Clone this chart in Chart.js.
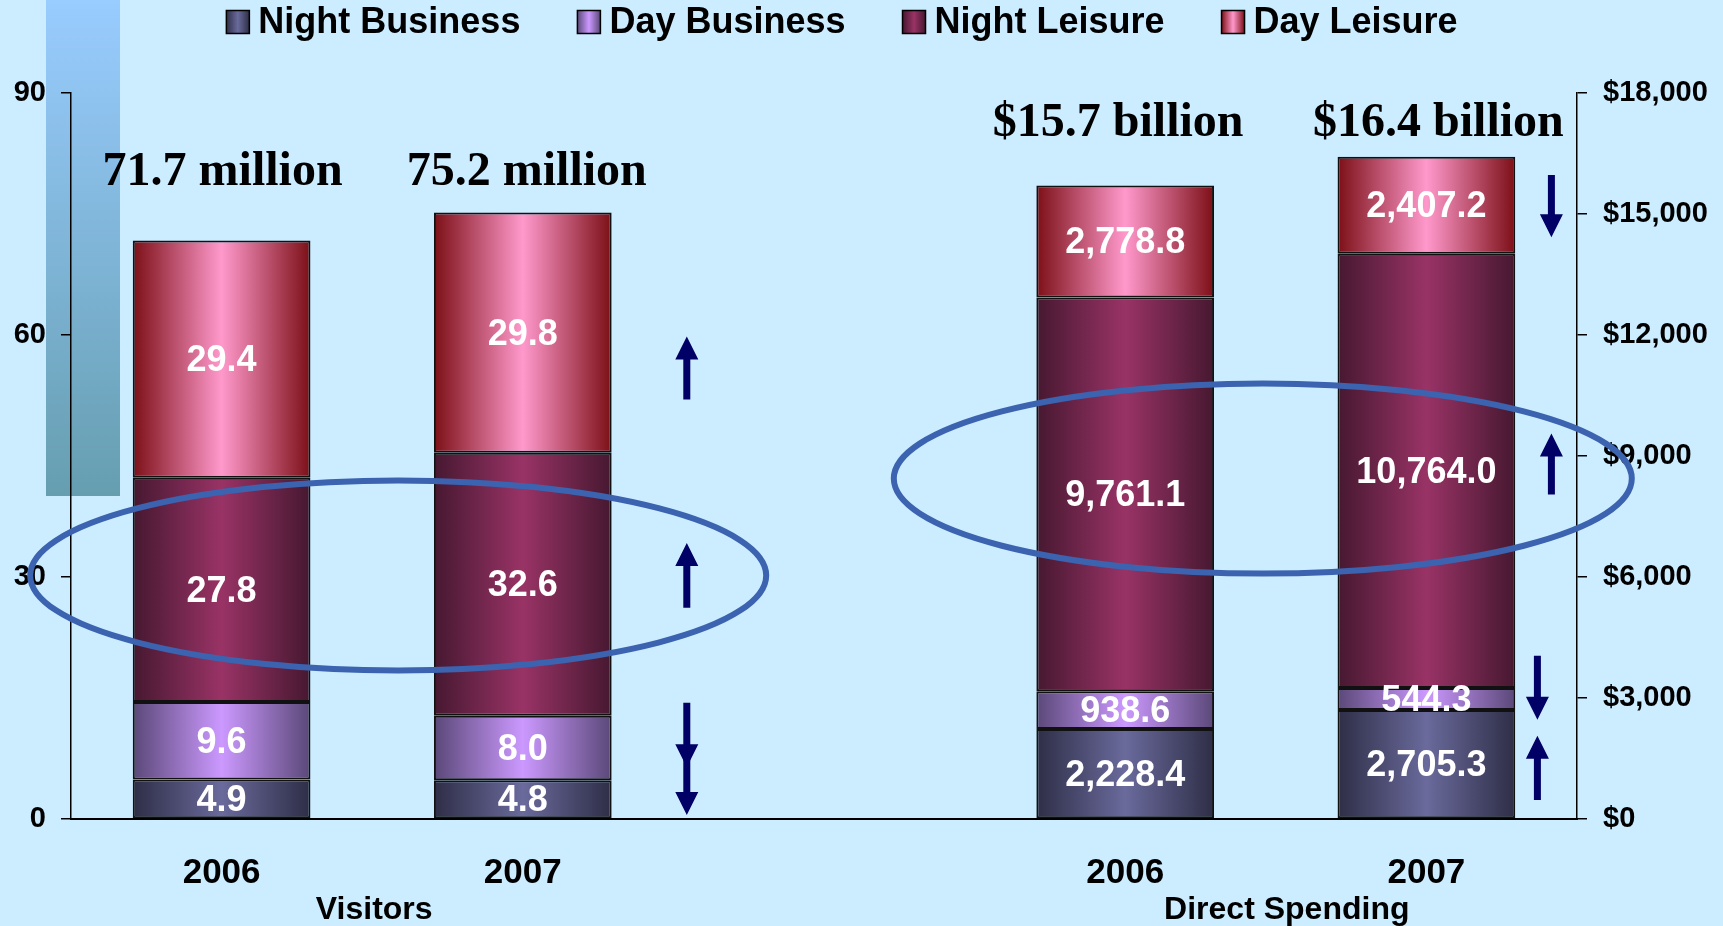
<!DOCTYPE html>
<html>
<head>
<meta charset="utf-8">
<title>Visitors and Direct Spending</title>
<script src="https://cdn.jsdelivr.net/npm/chart.js@4.4.1/dist/chart.umd.min.js"></script>
<style>
  html, body { margin: 0; padding: 0; background: #ccecff; }
  #wrap { position: relative; width: 1723px; height: 926px; }
</style>
</head>
<body>
<div id="wrap"><canvas id="chart" width="1723" height="926"></canvas></div>
<script>
// categories: two visitor bars, a spacer, two spending bars
const categories = ['2006', '2007', '', '2006', '2007'];
const groupLabels = ['Visitors', 'Direct Spending'];
const seriesNames = ['Night Business', 'Day Business', 'Night Leisure', 'Day Leisure'];

// visitors, millions (2006, 2007)
const visNightBusiness = [4.9, 4.8];
const visDayBusiness = [9.6, 8.0];
const visNightLeisure = [27.8, 32.6];
const visDayLeisure = [29.4, 29.8];

// direct spending, $ millions (2006, 2007)
const spendNightBusiness = [2228.4, 2705.3];
const spendDayBusiness = [938.6, 544.3];
const spendNightLeisure = [9761.1, 10764.0];
const spendDayLeisure = [2778.8, 2407.2];

const totalLabels = ['71.7 million', '75.2 million', '$15.7 billion', '$16.4 billion'];
const visitorTicks = [0, 30, 60, 90];
const spendingTicks = [0, 3000, 6000, 9000, 12000, 15000, 18000];

// colours: [edge, middle] of the cylinder shading
const seriesColors = [
  ['#2e2e47', '#6a6a9c'],
  ['#5a4878', '#cc99ff'],
  ['#461830', '#993366'],
  ['#7c0f16', '#ff99cc']
];

const BAR_PCT = 0.59;

function barFill(edge, mid) {
  return function (ctx) {
    const xs = ctx.chart.scales.x;
    if (!xs || ctx.dataIndex === undefined) return mid;
    const cx = xs.getPixelForValue(ctx.dataIndex);
    const half = (xs.width / categories.length) * BAR_PCT / 2;
    if (!isFinite(cx) || !isFinite(half) || half <= 0) return mid;
    const g = ctx.chart.ctx.createLinearGradient(cx - half, 0, cx + half, 0);
    g.addColorStop(0, edge);
    g.addColorStop(0.5, mid);
    g.addColorStop(1, edge);
    return g;
  };
}

const visSeries = [visNightBusiness, visDayBusiness, visNightLeisure, visDayLeisure];
const spendSeries = [spendNightBusiness, spendDayBusiness, spendNightLeisure, spendDayLeisure];

const datasets = [];
seriesNames.forEach((name, i) => {
  datasets.push({
    label: name,
    data: [visSeries[i][0], visSeries[i][1], null, null, null],
    yAxisID: 'y',
    stack: 'all',
    backgroundColor: barFill(seriesColors[i][0], seriesColors[i][1])
  });
});
seriesNames.forEach((name, i) => {
  datasets.push({
    label: name,
    data: [null, null, null, spendSeries[i][0], spendSeries[i][1]],
    yAxisID: 'y1',
    stack: 'all',
    backgroundColor: barFill(seriesColors[i][0], seriesColors[i][1])
  });
});

// decorations: ellipses and arrows, anchored on the scales
const ellipses = [
  { cat: 0.5, dx: 26, axis: 'y', value: 30.2, rx: 368, ry: 95 },
  { cat: 3.5, dx: -13, axis: 'y1', value: 8440, rx: 369, ry: 95 }
];
const arrows = [
  { cat: 1, dx: 164, axis: 'y', from: 52.0, to: 59.8 },
  { cat: 1, dx: 164, axis: 'y', from: 26.2, to: 34.2 },
  { cat: 1, dx: 164, axis: 'y', from: 14.4, to: 6.4 },
  { cat: 1, dx: 164, axis: 'y', from: 7.6, to: 0.5 },
  { cat: 4, dx: 125, axis: 'y1', from: 15966, to: 14426 },
  { cat: 4, dx: 125, axis: 'y1', from: 8045, to: 9560 },
  { cat: 4, dx: 111, axis: 'y1', from: 4047, to: 2458 },
  { cat: 4, dx: 111, axis: 'y1', from: 472, to: 2061 }
];
// small horizontal nudges for the total captions
const totalNudge = [1, 4, -7, 12];

function fmtValue(v, axis) {
  if (axis === 'y') return v.toFixed(1);
  return v.toLocaleString('en-US', { minimumFractionDigits: 1, maximumFractionDigits: 1 });
}

function drawArrow(ctx, x, y0, y1) {
  const dir = y1 > y0 ? 1 : -1;
  const head = 23, shaft = 7, hw = 11.5;
  const yNeck = y1 - dir * head;
  ctx.beginPath();
  ctx.moveTo(x - shaft / 2, y0);
  ctx.lineTo(x + shaft / 2, y0);
  ctx.lineTo(x + shaft / 2, yNeck);
  ctx.lineTo(x + hw, yNeck);
  ctx.lineTo(x, y1);
  ctx.lineTo(x - hw, yNeck);
  ctx.lineTo(x - shaft / 2, yNeck);
  ctx.closePath();
  ctx.fill();
}

const decorPlugin = {
  id: 'decor',
  beforeDraw(chart) {
    const ctx = chart.ctx;
    ctx.save();
    ctx.fillStyle = '#ccecff';
    ctx.fillRect(0, 0, chart.width, chart.height);
    // blue side band
    const g = ctx.createLinearGradient(0, 0, 0, 496);
    g.addColorStop(0, '#99ccff');
    g.addColorStop(1, '#669eb0');
    ctx.fillStyle = g;
    ctx.fillRect(46, 0, 74, 496);
    ctx.restore();
  },
  afterDatasetsDraw(chart) {
    const ctx = chart.ctx;
    ctx.save();
    ctx.fillStyle = '#ffffff';
    ctx.font = 'bold 36px "Liberation Sans", Arial, sans-serif';
    ctx.textAlign = 'center';
    ctx.textBaseline = 'middle';
    chart.data.datasets.forEach((ds, i) => {
      const meta = chart.getDatasetMeta(i);
      meta.data.forEach((bar, j) => {
        const v = ds.data[j];
        if (v === null || v === undefined) return;
        const p = bar.getProps(['x', 'y', 'base'], true);
        ctx.fillText(fmtValue(v, ds.yAxisID), p.x, (p.y + p.base) / 2 + 2);
      });
    });
    ctx.restore();
  },
  afterDraw(chart) {
    const ctx = chart.ctx;
    const xs = chart.scales.x;
    ctx.save();

    // totals above the bars
    ctx.fillStyle = '#000';
    ctx.font = 'bold 48px "Liberation Serif", "Times New Roman", serif';
    ctx.textAlign = 'center';
    ctx.textBaseline = 'middle';
    [0, 1, 3, 4].forEach((c, k) => {
      const y = c < 2 ? 173 : 124;
      ctx.fillText(totalLabels[k], xs.getPixelForValue(c) + totalNudge[k], y);
    });

    // group captions
    ctx.font = 'bold 32px "Liberation Sans", Arial, sans-serif';
    ctx.fillText(groupLabels[0], xs.getPixelForValue(0.5) + 2, 910);
    ctx.fillText(groupLabels[1], xs.getPixelForValue(3.5) + 11, 910);

    // ellipses
    ctx.strokeStyle = '#3b63b0';
    ctx.lineWidth = 6;
    ellipses.forEach(e => {
      const cx = xs.getPixelForValue(e.cat) + e.dx;
      const cy = chart.scales[e.axis].getPixelForValue(e.value);
      ctx.beginPath();
      ctx.ellipse(cx, cy, e.rx, e.ry, 0, 0, Math.PI * 2);
      ctx.stroke();
    });

    // arrows
    ctx.fillStyle = '#000066';
    arrows.forEach(a => {
      const x = xs.getPixelForValue(a.cat) + a.dx;
      const s = chart.scales[a.axis];
      drawArrow(ctx, x, s.getPixelForValue(a.from), s.getPixelForValue(a.to));
    });

    // legend
    ctx.font = 'bold 36px "Liberation Sans", Arial, sans-serif';
    ctx.textAlign = 'left';
    const box = 23, gapText = 9, gapItem = 57;
    const widths = seriesNames.map(n => ctx.measureText(n).width);
    const total = widths.reduce((a, w) => a + box + gapText + w, 0) + gapItem * (seriesNames.length - 1);
    let x = 842 - total / 2;
    const ly = 22;
    seriesNames.forEach((n, i) => {
      const lg = ctx.createLinearGradient(x, 0, x + box, 0);
      lg.addColorStop(0, seriesColors[i][0]);
      lg.addColorStop(0.5, seriesColors[i][1]);
      lg.addColorStop(1, seriesColors[i][0]);
      ctx.fillStyle = lg;
      ctx.fillRect(x, ly - box / 2, box, box);
      ctx.strokeStyle = '#000';
      ctx.lineWidth = 1.5;
      ctx.strokeRect(x, ly - box / 2, box, box);
      ctx.fillStyle = '#000';
      ctx.fillText(n, x + box + gapText, ly + 1);
      x += box + gapText + widths[i] + gapItem;
    });

    ctx.restore();
  }
};

Chart.defaults.font.family = '"Liberation Sans", Arial, sans-serif';
Chart.defaults.color = '#000';

const axisGrid = { display: true, drawOnChartArea: false, drawTicks: true, tickLength: 10, color: '#000', lineWidth: 1.5 };

new Chart(document.getElementById('chart').getContext('2d'), {
  type: 'bar',
  data: { labels: categories, datasets: datasets },
  options: {
    responsive: false,
    devicePixelRatio: 1,
    animation: false,
    layout: { padding: { top: 93, left: 0, right: 0, bottom: 0 } },
    datasets: {
      bar: {
        barPercentage: BAR_PCT,
        categoryPercentage: 1.0,
        borderColor: '#111',
        borderWidth: 2,
        borderSkipped: false
      }
    },
    plugins: {
      legend: { display: false },
      tooltip: { enabled: false }
    },
    scales: {
      x: {
        stacked: true,
        grid: { display: false, drawTicks: false },
        border: { display: true, color: '#000', width: 2 },
        ticks: { font: { size: 35, weight: 'bold' }, color: '#000', padding: 33 },
        afterFit(scale) { scale.height = 107; }
      },
      y: {
        position: 'left',
        stacked: true,
        min: 0,
        max: 90,
        afterBuildTicks(scale) { scale.ticks = visitorTicks.map(v => ({ value: v })); },
        grid: axisGrid,
        border: { display: true, color: '#000', width: 1.5 },
        ticks: { font: { size: 29, weight: 'bold' }, color: '#000', padding: 15 },
        afterFit(scale) { scale.width = 71; }
      },
      y1: {
        position: 'right',
        stacked: true,
        min: 0,
        max: 18000,
        afterBuildTicks(scale) { scale.ticks = spendingTicks.map(v => ({ value: v })); },
        grid: axisGrid,
        border: { display: true, color: '#000', width: 1.5 },
        ticks: {
          font: { size: 29, weight: 'bold' },
          color: '#000',
          padding: 16,
          callback: v => '$' + v.toLocaleString('en-US')
        },
        afterFit(scale) { scale.width = 146; }
      }
    }
  },
  plugins: [decorPlugin]
});
</script>
</body>
</html>
